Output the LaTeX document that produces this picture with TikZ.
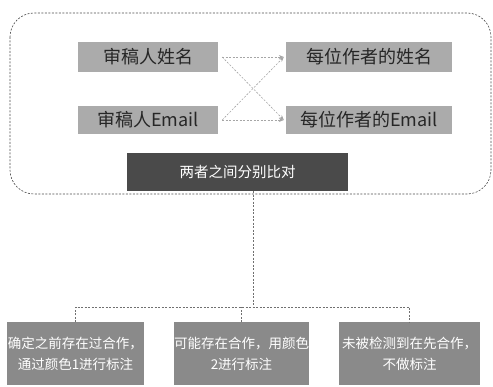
\documentclass[tikz,border=0pt]{standalone}
\usepackage{fontspec}
\setmainfont{Noto Sans CJK SC}
\usetikzlibrary{arrows.meta}
\definecolor{lightbox}{HTML}{ABABAB}
\definecolor{darkbox}{HTML}{4A4A4A}
\definecolor{midbox}{HTML}{8A8A8A}
\definecolor{linegray}{HTML}{707070}
\begin{document}
\begin{tikzpicture}[x=1pt,y=-1pt,
  topbox/.style={fill=lightbox,inner sep=0pt,text=black!85,font=\fontsize{18}{21}\selectfont},
  darkbx/.style={fill=darkbox,inner sep=0pt,text=white,font=\fontsize{14.5}{17}\selectfont},
  botbox/.style={fill=midbox,inner sep=0pt,text=white,align=center,font=\fontsize{13.5}{21}\selectfont},
  conn/.style={draw=linegray,dash pattern=on 2pt off 1.5pt,line width=0.6pt},
  arr/.style={draw=gray!70,dash pattern=on 2pt off 1.5pt,line width=0.6pt,-{Stealth[length=5pt,width=4pt]}}]
\useasboundingbox (0,0) rectangle (493,387);
\draw[dash pattern=on 2pt off 1.5pt,draw=black!70,line width=0.6pt,rounded corners=24pt] (10,13) rectangle (491,194);
\node[topbox,minimum width=140pt,minimum height=30pt] (rn) at (148,57) {审稿人姓名};
\node[topbox,minimum width=166pt,minimum height=30pt] (an) at (369,57) {每位作者的姓名};
\node[topbox,minimum width=140pt,minimum height=28pt] (re) at (148,120) {审稿人Email};
\node[topbox,minimum width=166pt,minimum height=28pt] (ae) at (369,120) {每位作者的Email};
\node[darkbx,minimum width=221pt,minimum height=38pt] (cmp) at (237.5,172) {两者之间分别比对};
\draw[arr] ([xshift=4pt]rn.east) -- ([xshift=-2pt]an.west);
\draw[arr] ([xshift=4pt]rn.east) -- ([xshift=-2pt]ae.west);
\draw[arr] ([xshift=4pt]re.east) -- ([xshift=-2pt]ae.west);
\draw[arr] ([xshift=4pt]re.east) -- ([xshift=-2pt]an.west);
\node[botbox,minimum width=137pt,minimum height=63pt] (b1) at (75.5,354) {确定之前存在过合作，\\通过颜色1进行标注};
\node[botbox,minimum width=135pt,minimum height=63pt] (b2) at (241.5,354) {可能存在合作，用颜色\\2进行标注};
\node[botbox,minimum width=141pt,minimum height=63pt] (b3) at (409.5,354) {未被检测到在先合作，\\不做标注};
\coordinate (j) at (253,307);
\draw[conn] (cmp.south -| j) -- (j);
\draw[conn] (b1.north) |- (j) -| (b3.north);
\draw[conn] (b2.north) -- (b2.north |- j);
\end{tikzpicture}
\end{document}
